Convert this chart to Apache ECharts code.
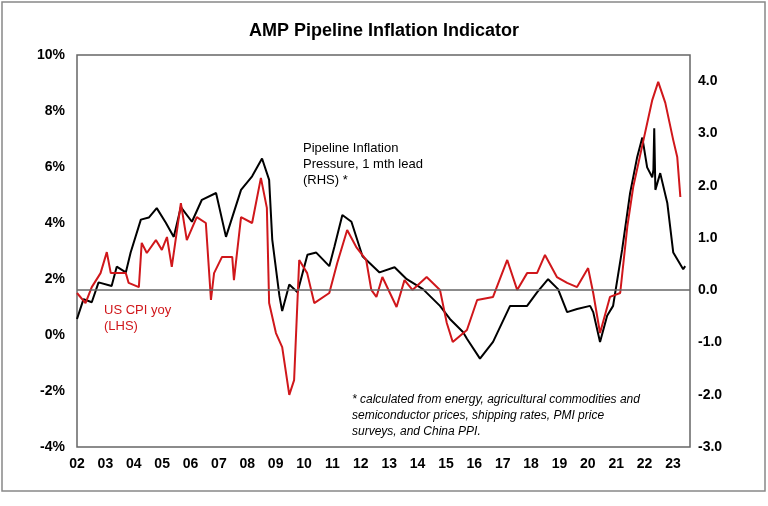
<!DOCTYPE html>
<html>
<head>
<meta charset="utf-8">
<script src="https://cdn.jsdelivr.net/npm/echarts@6/dist/echarts.min.js"></script>
<style>html,body{margin:0;padding:0;background:#fff}#c{width:768px;height:506px}</style>
</head>
<body>
<div id="c"></div>
<script>
// Pipeline inflation pressure (RHS), decimal year + value
var pipeYears = [2002.0, 2002.23, 2002.52, 2002.76, 2003.22, 2003.40, 2003.72, 2003.89, 2004.25, 2004.53, 2004.81, 2005.13, 2005.41, 2005.66, 2006.05, 2006.40, 2006.90, 2007.25, 2007.78, 2008.17, 2008.52, 2008.77, 2008.88, 2009.13, 2009.23, 2009.48, 2009.77, 2010.12, 2010.43, 2010.89, 2011.07, 2011.35, 2011.67, 2012.06, 2012.66, 2013.19, 2013.62, 2014.19, 2014.79, 2015.14, 2015.60, 2015.74, 2016.20, 2016.66, 2017.26, 2017.86, 2018.21, 2018.60, 2018.95, 2019.27, 2019.62, 2020.08, 2020.19, 2020.43, 2020.68, 2020.89, 2021.21, 2021.49, 2021.74, 2021.92, 2022.09, 2022.27, 2022.31, 2022.34, 2022.38, 2022.55, 2022.80, 2023.01, 2023.36, 2023.43];
var pipeValues = [-0.55, -0.17, -0.23, 0.15, 0.08, 0.45, 0.34, 0.72, 1.35, 1.39, 1.57, 1.29, 1.02, 1.59, 1.31, 1.73, 1.86, 1.02, 1.92, 2.18, 2.52, 2.11, 0.97, -0.10, -0.40, 0.11, -0.04, 0.68, 0.72, 0.46, 0.83, 1.44, 1.31, 0.65, 0.34, 0.44, 0.21, 0.02, -0.30, -0.55, -0.80, -0.93, -1.31, -0.99, -0.30, -0.30, -0.04, 0.21, 0.02, -0.42, -0.36, -0.30, -0.42, -0.99, -0.49, -0.30, 0.78, 1.86, 2.55, 2.92, 2.35, 2.16, 2.3, 3.10, 1.92, 2.24, 1.67, 0.72, 0.40, 0.46];
// US CPI yoy (LHS, %)
var cpiYears = [2002.0, 2002.3, 2002.52, 2002.83, 2003.05, 2003.19, 2003.72, 2003.82, 2004.18, 2004.28, 2004.46, 2004.78, 2004.99, 2005.17, 2005.34, 2005.66, 2005.87, 2006.22, 2006.54, 2006.72, 2006.83, 2007.11, 2007.47, 2007.53, 2007.78, 2008.17, 2008.48, 2008.69, 2008.77, 2009.01, 2009.23, 2009.48, 2009.65, 2009.83, 2010.11, 2010.36, 2010.89, 2011.17, 2011.52, 2011.84, 2012.19, 2012.37, 2012.55, 2012.76, 2013.26, 2013.54, 2013.82, 2014.32, 2014.79, 2015.03, 2015.24, 2015.74, 2016.10, 2016.66, 2017.16, 2017.51, 2017.86, 2018.21, 2018.49, 2018.91, 2019.27, 2019.62, 2020.01, 2020.19, 2020.43, 2020.78, 2021.14, 2021.39, 2021.60, 2021.96, 2022.27, 2022.48, 2022.73, 2023.01, 2023.15, 2023.26];
var cpiValues = [1.5, 1.14, 1.71, 2.21, 2.96, 2.21, 2.21, 1.86, 1.71, 3.29, 2.93, 3.39, 3.04, 3.50, 2.43, 4.71, 3.39, 4.21, 4.0, 1.25, 2.21, 2.79, 2.79, 1.96, 4.21, 4.0, 5.61, 4.54, 1.14, 0.07, -0.43, -2.14, -1.61, 2.68, 2.21, 1.14, 1.50, 2.57, 3.75, 3.14, 2.68, 1.61, 1.36, 2.07, 1.0, 1.96, 1.61, 2.07, 1.61, 0.43, -0.25, 0.18, 1.25, 1.36, 2.68, 1.61, 2.21, 2.21, 2.86, 2.07, 1.86, 1.71, 2.39, 1.50, 0.07, 1.36, 1.50, 3.86, 5.29, 6.96, 8.39, 9.04, 8.29, 6.96, 6.36, 4.93];

function zip(xs, ys) { return xs.map(function (x, i) { return [x, ys[i]]; }); }

var chart = echarts.init(document.getElementById('c'));
var lbl = { color: '#000', fontWeight: 'bold', fontSize: 14, fontFamily: 'Liberation Sans, Arial' };
chart.setOption({
    animation: false,
    title: {
        text: 'AMP Pipeline Inflation Indicator', left: 'center', top: 17,
        textStyle: { fontSize: 18, fontWeight: 'bold', color: '#000', fontFamily: 'Liberation Sans, Arial' }
    },
    grid: { left: 77, right: 78, top: 55, bottom: 59, show: true, borderColor: '#666', borderWidth: 1.5, backgroundColor: 'transparent' },
    xAxis: {
        type: 'value', min: 2002, max: 2023.6, interval: 1,
        axisLine: { show: false, onZero: false },
        axisTick: { show: false }, splitLine: { show: false },
        axisLabel: Object.assign({ margin: 10, showMaxLabel: false, formatter: function (v) { return String(v).slice(2); } }, lbl)
    },
    yAxis: [{
        type: 'value', min: -4, max: 10, interval: 2, position: 'left',
        axisLine: { show: false }, axisTick: { show: false }, splitLine: { show: false },
        axisLabel: Object.assign({ formatter: '{value}%', margin: 12 }, lbl)
    }, {
        type: 'value', min: -3, max: 4.5, interval: 1, position: 'right',
        axisLine: { show: false }, axisTick: { show: false }, splitLine: { show: false },
        axisLabel: Object.assign({ showMaxLabel: false, margin: 8, formatter: function (v) { return v.toFixed(1); } }, lbl)
    }],
    series: [{
        name: 'Pipeline', type: 'line', yAxisIndex: 1, data: zip(pipeYears, pipeValues),
        showSymbol: false, lineStyle: { color: '#000', width: 2 }, z: 2,
        markLine: {
            silent: true, symbol: 'none', label: { show: false },
            lineStyle: { color: '#666', type: 'solid', width: 1.5 }, data: [{ yAxis: 0 }]
        }
    }, {
        name: 'CPI', type: 'line', yAxisIndex: 0, data: zip(cpiYears, cpiValues),
        showSymbol: false, lineStyle: { color: '#d0171b', width: 2 }, z: 3
    }],
    graphic: [
        { type: 'rect', shape: { x: 2, y: 2, width: 763, height: 489 }, style: { fill: 'none', stroke: '#888', lineWidth: 1.5 } },
        { type: 'text', left: 303, top: 140, style: { text: 'Pipeline Inflation\nPressure, 1 mth lead\n(RHS) *', fill: '#000', font: '13px Liberation Sans, Arial', lineHeight: 16 } },
        { type: 'text', left: 104, top: 302, style: { text: 'US CPI yoy\n(LHS)', fill: '#d0171b', font: '13px Liberation Sans, Arial', lineHeight: 16 } },
        { type: 'text', left: 352, top: 392, style: { text: '* calculated from energy, agricultural commodities and\nsemiconductor prices, shipping rates, PMI price\nsurveys, and China PPI.', fill: '#000', font: 'italic 12px Liberation Sans, Arial', lineHeight: 16 } }
    ]
});
</script>
</body>
</html>
